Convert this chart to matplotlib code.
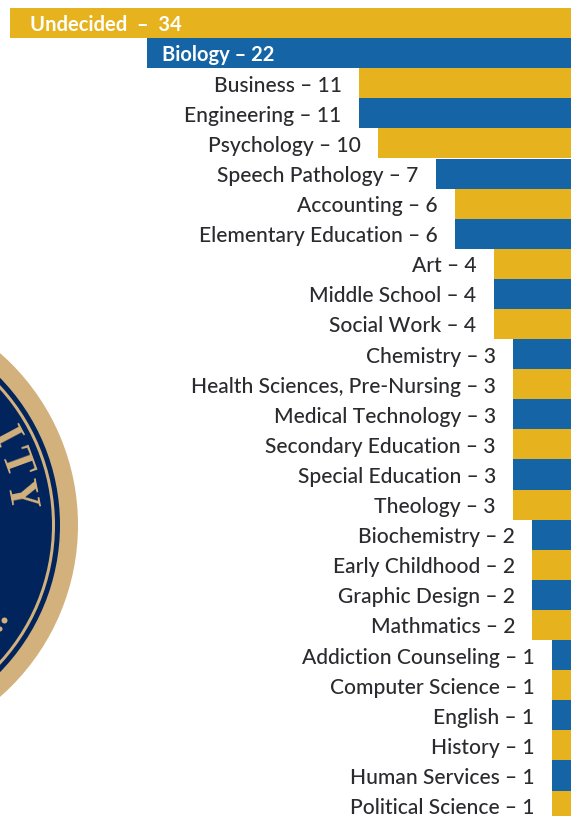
import matplotlib
matplotlib.use('Agg')
import matplotlib.pyplot as plt
from matplotlib.patches import Circle

majors = ['Undecided', 'Biology', 'Business', 'Engineering', 'Psychology', 'Speech Pathology',
          'Accounting', 'Elementary Education', 'Art', 'Middle School', 'Social Work', 'Chemistry',
          'Health Sciences, Pre-Nursing', 'Medical Technology', 'Secondary Education',
          'Special Education', 'Theology', 'Biochemistry', 'Early Childhood', 'Graphic Design',
          'Mathmatics', 'Addiction Counseling', 'Computer Science', 'English', 'History',
          'Human Services', 'Political Science']
counts = [34, 22, 11, 11, 10, 7, 6, 6, 4, 4, 4, 3, 3, 3, 3, 3, 3, 2, 2, 2, 2, 1, 1, 1, 1, 1, 1]

GOLD = '#e6b31e'
BLUE = '#1565a6'
NAVY = '#01245c'
TAN = '#d3b17d'
TEXT = '#2b2a2e'

plt.rcParams['font.family'] = ['Lato', 'DejaVu Sans']

W, H = 576, 816
fig = plt.figure(figsize=(W / 100, H / 100), dpi=100)

# seal in the background, pixel coordinates
bg = fig.add_axes([0, 0, 1, 1])
bg.set_xlim(0, W)
bg.set_ylim(H, 0)
bg.axis('off')
cx, cy = -150.5, 525
for r, c in [(228.5, TAN), (210.5, NAVY), (205.5, TAN), (202.5, NAVY)]:
    bg.add_patch(Circle((cx, cy), r, color=c, lw=0))
for s, x, y, rot in [('I', 4, 437, -62), ('T', 15, 463, -70), ('Y', 19, 495, -79)]:
    bg.text(x, y, s, family='Liberation Serif', fontweight='bold', fontsize=30, color=TAN,
            rotation=rot, ha='center', va='center')
bg.add_patch(Circle((4.5, 620.5), 3, color=TAN, lw=0))
bg.add_patch(Circle((0, 629), 2.5, color=TAN, lw=0))

# bars, the Undecided one runs off the axes on the left
unit = 19.27
ax = fig.add_axes([10 / W, 0, 561 / W, 1 - 8 / H])
ax.patch.set_alpha(0)
ax.axis('off')
ypos = list(range(len(majors)))
colors = [GOLD if i % 2 == 0 else BLUE for i in ypos]
ax.barh(ypos, counts, height=1.0, color=colors, lw=0)
ax.set_xlim(561 / unit, 0)
ax.set_ylim((808 / 30.1) - 0.5, -0.5)

for i, (m, n) in enumerate(zip(majors, counts)):
    label = f'{m} – {n}'
    if i == 0:
        ax.annotate('Undecided  –  34', (561 / unit, i), xytext=(14.5, -1.2), textcoords='offset points',
                    color='white', fontsize=14.5, fontweight='bold', ha='left', va='center')
    elif i == 1:
        ax.annotate(label, (n, i), xytext=(11, -1.2), textcoords='offset points',
                    color='white', fontsize=14.5, fontweight='bold', ha='left', va='center')
    else:
        ax.annotate(label, (n, i), xytext=(-12.5, -1.7), textcoords='offset points',
                    color=TEXT, fontsize=15.15, fontweight='medium', ha='right', va='center')

fig.savefig('out.png', dpi=100)
